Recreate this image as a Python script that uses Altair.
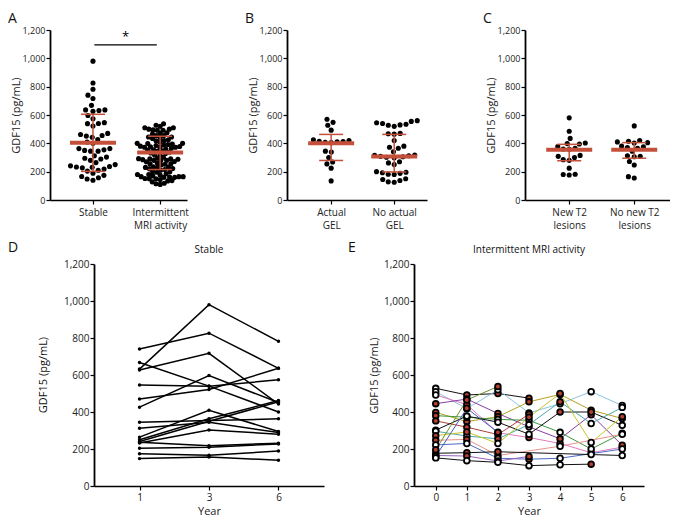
import math
import pandas as pd
import altair as alt

FONT = "Open Sans"
RED = "#c4503b"
RED_PT = "#b8402e"

# ---------------- data ----------------
# Panel D (stable patients, years 1, 3, 6)
d_years = ["1", "3", "6"]
d_year1 = [632, 740, 627, 668, 546, 470, 426, 345, 312, 264, 250, 241, 233, 236, 204, 174, 148]
d_year3 = [980, 826, 717, 540, 539, 522, 597, 354, 345, 409, 363, 350, 303, 218, 210, 166, 157]
d_year6 = [782, 636, 443, 400, 574, 636, 451, 363, 289, 295, 462, 455, 280, 231, 227, 189, 139]

# Panel E (intermittent MRI activity, years 0..6); status R = red filled, H = hollow
e_years = [0, 1, 2, 3, 4, 5, 6]
e_values = [
    [528, 492, 500, 475, None, None, None],
    [510, 418, 520, 395, 445, 510, 435],
    [492, 440, 288, 262, 230, 180, 210],
    [445, 470, 392, 320, 255, 385, 220],
    [398, 348, 375, 455, 495, 410, 365],
    [380, 372, 360, 355, 290, 200, 285],
    [352, 318, 278, 388, None, None, None],
    [302, 378, 345, 280, 400, 400, 328],
    [296, 270, 255, 332, 455, 338, 425],
    [272, 292, 230, 372, 500, 235, 375],
    [247, 252, 165, None, 215, None, 280],
    [222, 230, 150, 145, 150, None, 200],
    [177, 180, 185, None, None, 170, 165],
    [165, 162, 135, 160, None, None, None],
    [196, 465, 538, None, None, None, None],
    [160, 420, 290, None, None, None, None],
    [152, 137, 128, 110, 115, 118, None],
]
e_status = [
    "HRRR---", "HRHHHHH", "HRRRRHR", "RRRHRRR", "RRRRRRR", "RHHHHHH", "RRRR---",
    "HHHHRRH", "HHRHRHH", "RRHRRHR", "RRR-H-H", "HHHRH-H", "HRR--HH", "HRHR---",
    "RRR----", "HRR----", "HHHHHR-",
]
e_colors = ["#111111", "#8cc4e0", "#e07bc0", "#8a3ea8", "#b3a21e", "#3d9a3d", "#b0413a",
            "#111111", "#4fa8a8", "#c9c62a", "#e5938c", "#4d6cc4", "#111111", "#9b5fc0",
            "#6f8f2f", "#3f5fbf", "#111111"]

# Panel B
b_labels = ["Actual\nGEL", "No actual\nGEL"]
b_actual = [570, 548, 528, 493, 425, 412, 408, 405, 410, 415, 420, 345, 338, 300, 268, 255, 225, 135]
b_no_actual = [560, 555, 545, 540, 535, 530, 528, 520, 470, 468, 465, 420, 380, 372, 365, 340, 318,
               315, 312, 308, 305, 302, 298, 270, 262, 250, 200, 196, 192, 188, 182, 180, 150, 145,
               138, 128, 125]
# Panel C
c_labels = ["New T2\nlesions", "No new T2\nlesions"]
c_new = [580, 485, 435, 402, 398, 395, 378, 365, 360, 358, 315, 308, 300, 285, 280, 225, 182, 180, 176]
c_no_new = [523, 420, 415, 410, 405, 402, 380, 375, 370, 365, 345, 312, 308, 305, 272, 247, 165, 155]
# Panel A groups come from D (stable) and E (intermittent)
a_labels = ["Stable", "Intermittent\nMRI activity"]

# summary lines (median, q1, q3)
a_med, a_q1, a_q3 = [405, 335], [202, 215], [605, 450]
b_med, b_q1, b_q3 = [400, 307], [279, 198], [463, 463]
c_med, c_q1, c_q3 = [354, 354], [277, 295], [393, 405]
sig_bar = [0.02, 0.95, 1095]
sig_star_y = 1150

Y_TITLE = "GDF15 (pg/mL)"

# ---------------- layout constants ----------------
TOP_H = 170
BOT_H = 222
BOT_W = 230
DIAM = 6.0
MAX_SPREAD = 24.0
Y_DOMAIN = [0, 1200]
Y_TICKS = [0, 200, 400, 600, 800, 1000, 1200]


def swarm_once(values, diam, ypx):
    placed = []
    out = [0.0] * len(values)
    order = sorted(range(len(values)), key=lambda i: values[i])
    for i in order:
        y = values[i] * ypx
        intervals = []
        for py, px in placed:
            dy = abs(py - y)
            if dy < diam:
                dx = math.sqrt(diam * diam - dy * dy)
                intervals.append((px - dx, px + dx))
        cands = [0.0] + [a for a, b in intervals] + [b for a, b in intervals]
        cands.sort(key=lambda c: (abs(c), c))
        x = 0.0
        for c in cands:
            if all(not (a + 1e-6 < c < b - 1e-6) for a, b in intervals):
                x = c
                break
        placed.append((y, x))
        out[i] = x
    return out


def swarm(values, ypx):
    d = DIAM
    while True:
        out = swarm_once(values, d, ypx)
        if max(abs(o) for o in out) <= MAX_SPREAD or d < 2.5:
            return out
        d -= 0.25


def yaxis(fs, title=Y_TITLE, tpad=1):
    kw = dict(values=Y_TICKS, format=",d", grid=False, tickSize=4, labelFontSize=fs,
              titleFontSize=11, titlePadding=tpad, labelPadding=1, domainWidth=1.8, tickWidth=1.2)
    if title is None:
        return alt.Axis(title=None, **kw)
    return alt.Axis(title=title, **kw)


def text_layer(s, dx, dy, fs=14, align="left", angle=0):
    return alt.Chart(pd.DataFrame({"t": [s]})).mark_text(
        align=align, baseline="middle", fontSize=fs, font=FONT, color="#111", angle=angle
    ).encode(text="t:N", x=alt.value(dx), y=alt.value(dy))


def scatter_panel(groups, labels, meds, q1s, q3s, xdomain, width, ch, ch_dx, sig=False):
    xpx = width / (xdomain[1] - xdomain[0])
    ypx = TOP_H / 1200.0
    rows = []
    for gi, vals in enumerate(groups):
        offs = swarm(vals, ypx)
        for v, o in zip(vals, offs):
            rows.append({"g": gi, "v": v, "x": gi + o / xpx})
    pts_df = pd.DataFrame(rows)
    sm = pd.DataFrame({"g": [0, 1], "med": meds, "q1": q1s, "q3": q3s})
    sm["m1"] = sm["g"] - 23 / xpx
    sm["m2"] = sm["g"] + 23 / xpx
    sm["c1"] = sm["g"] - 12 / xpx
    sm["c2"] = sm["g"] + 12 / xpx

    label_expr = "datum.value == 0 ? %s : %s" % (
        str(labels[0].split("\n")), str(labels[1].split("\n")))
    xscale = alt.Scale(domain=xdomain, nice=False, zero=False)
    xax = alt.Axis(values=[0, 1], labelExpr=label_expr, title=None, grid=False, tickSize=4,
                   labelFontSize=10, labelPadding=3, domainWidth=1.5, tickWidth=1.2,
                   labelLineHeight=13)
    yscale = alt.Scale(domain=Y_DOMAIN, nice=False)

    def X(f):
        return alt.X(f, scale=xscale, axis=xax, title=None)

    def Y(f):
        return alt.Y(f, scale=yscale, axis=yaxis(9), title=Y_TITLE)

    pts = alt.Chart(pts_df).mark_circle(size=26, color="black", opacity=1).encode(x=X("x:Q"), y=Y("v:Q"))
    base = alt.Chart(sm)
    wh = base.mark_rule(color=RED, strokeWidth=1.5).encode(x=X("g:Q"), y=Y("q1:Q"), y2="q3:Q")
    cap1 = base.mark_rule(color=RED, strokeWidth=1.5).encode(x=X("c1:Q"), x2="c2:Q", y=Y("q1:Q"))
    cap2 = base.mark_rule(color=RED, strokeWidth=1.5).encode(x=X("c1:Q"), x2="c2:Q", y=Y("q3:Q"))
    med = base.mark_rule(color=RED, strokeWidth=4).encode(x=X("m1:Q"), x2="m2:Q", y=Y("med:Q"))
    layers = [pts, wh, cap1, cap2, med, text_layer(ch, ch_dx, -11)]
    if sig:
        sdf = pd.DataFrame({"x1": [sig_bar[0]], "x2": [sig_bar[1]], "y": [sig_bar[2]],
                            "xm": [(sig_bar[0] + sig_bar[1]) / 2], "ys": [sig_star_y], "t": ["*"]})
        layers.append(alt.Chart(sdf).mark_rule(color="black", strokeWidth=1.3).encode(
            x=X("x1:Q"), x2="x2:Q", y=Y("y:Q")))
        layers.append(alt.Chart(sdf).mark_text(fontSize=13, font=FONT, baseline="middle").encode(
            x=X("xm:Q"), y=Y("ys:Q"), text="t:N"))
    return alt.layer(*layers).properties(width=width, height=TOP_H)


stable_all = d_year1 + d_year3 + d_year6
inter_all = [v for row in e_values for v in row if v is not None]

A = scatter_panel([stable_all, inter_all], a_labels, a_med, a_q1, a_q3, [-0.64, 1.40], 137, "A", -42, sig=True)
B = scatter_panel([b_actual, b_no_actual], b_labels, b_med, b_q1, b_q3, [-0.70, 1.52], 140, "B", -42)
C = scatter_panel([c_new, c_no_new], c_labels, c_med, c_q1, c_q3, [-0.68, 1.55], 145, "C", -42)

# ---------------- panel D ----------------
d_rows = []
for pid in range(len(d_year1)):
    for yr, arr in zip(d_years, [d_year1, d_year3, d_year6]):
        d_rows.append({"pid": pid, "year": yr, "v": arr[pid]})
d_df = pd.DataFrame(d_rows)
ysc = alt.Scale(domain=Y_DOMAIN, nice=False)
d_x = alt.X("year:O", scale=alt.Scale(domain=d_years, type="point", padding=0.655),
            axis=alt.Axis(labelAngle=0, title="Year", grid=False, tickSize=4, labelFontSize=10,
                          titleFontSize=11, titlePadding=3, domainWidth=1.5, tickWidth=1.2))
d_y = alt.Y("v:Q", scale=ysc, axis=yaxis(10, None), title=None)
d_lines = alt.Chart(d_df).mark_line(color="black", strokeWidth=1.5).encode(x=d_x, y=d_y, detail="pid:N")
d_pts = alt.Chart(d_df).mark_circle(size=12, color="black", opacity=1).encode(x=d_x, y=d_y)
d_title = text_layer("Stable", BOT_W / 2, -14, fs=10, align="center")
# the "E" panel letter sits in the gap right of panel D
D = alt.layer(d_lines, d_pts, d_title, text_layer("E", BOT_W + 24, -16)).properties(width=BOT_W, height=BOT_H)

# narrow spacer column holding the "D" letter and D's y-axis title
S = alt.layer(
    text_layer("D", -42, -16),
    text_layer(Y_TITLE, -6, BOT_H / 2, fs=11, align="center", angle=270),
).properties(width=1, height=BOT_H)

# ---------------- panel E ----------------
e_rows = []
for pid, (vals, st) in enumerate(zip(e_values, e_status)):
    for yr, v, s in zip(e_years, vals, st):
        if v is not None:
            e_rows.append({"pid": "p%02d" % pid, "year": yr, "v": v, "st": s})
e_df = pd.DataFrame(e_rows)
pids = ["p%02d" % i for i in range(len(e_values))]
e_x = alt.X("year:Q", scale=alt.Scale(domain=[-0.7, 6.7], nice=False, zero=False),
            axis=alt.Axis(values=e_years, format="d", title="Year", grid=False, tickSize=4,
                          labelFontSize=10, titleFontSize=11, titlePadding=3, domainWidth=1.5,
                          tickWidth=1.2))
e_y = alt.Y("v:Q", scale=ysc, axis=yaxis(10, Y_TITLE, 4), title=Y_TITLE)
e_lines = alt.Chart(e_df).mark_line(strokeWidth=1).encode(
    x=e_x, y=e_y, color=alt.Color("pid:N", scale=alt.Scale(domain=pids, range=e_colors), legend=None),
    order="year:Q")
e_pts = alt.Chart(e_df).mark_circle(size=32, stroke="black", strokeWidth=1.8, opacity=1).encode(
    x=e_x, y=e_y,
    fill=alt.Fill("st:N", scale=alt.Scale(domain=["R", "H"], range=[RED_PT, "white"]), legend=None))
e_title = text_layer("Intermittent MRI activity", BOT_W / 2, -14, fs=10, align="center")
E = alt.layer(e_lines, e_pts, e_title).properties(width=BOT_W, height=BOT_H)

top = alt.hconcat(A, B, C, spacing=56)
bottom = alt.hconcat(S, D, E, spacing=12)
chart = alt.vconcat(top, bottom, spacing=11).properties(
    padding={"left": 0, "top": 4, "right": 0, "bottom": 0}
).configure(font=FONT).configure_view(stroke=None).configure_axis(
    domainColor="black", tickColor="black", labelColor="#222", titleColor="#222",
    labelFont=FONT, titleFont=FONT, titleFontWeight="normal"
).resolve_scale(color="independent")

chart.save("out.html", embed_options={"renderer": "svg", "actions": False})
